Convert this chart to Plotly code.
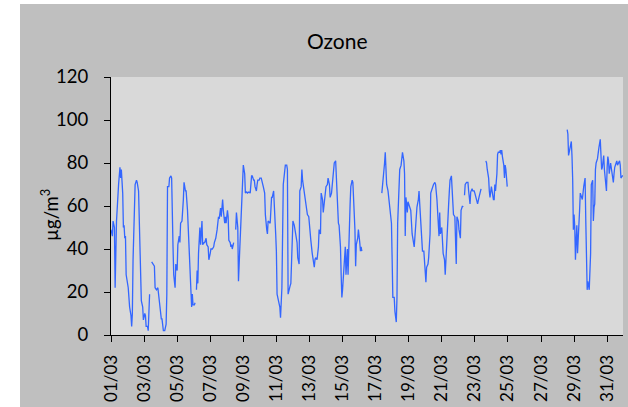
import pandas as pd
import plotly.graph_objects as go

# Hours since 01/03 00:00 and ozone values (µg/m³); None marks missing data
hours = [
    0, 2, 3, 5, 6, 8, 11, 13, 14, 15, 17, 18, 19, 20, 21, 22, 25, 27, 29, 30, 31, 32, 34, 35, 37, 38, 40, 41, 43, 44,
    46, 47, 49, 50, 51, 53, 54, 56, 57,
    59, 63, 64, 66, 68, 69, 71, 72, 73, 74, 76, 78, 80, 81, 82, 84, 85, 87, 88, 90, 91, 93, 94, 96, 97, 99, 100, 101,
    103, 105, 106, 108, 109, 111, 113, 114, 115, 117, 118, 119, 121, 122, 123,
    124, 125, 126, 127, 129, 130, 132, 133, 135, 136, 138, 139, 141, 142, 144, 145, 147, 149, 150, 152, 154, 156, 157,
    159, 160, 162, 163, 165, 166, 167, 169, 170, 171, 173, 174, 175, 176, 178, 179,
    181, 182, 184, 185, 187, 189, 191, 192, 194, 195, 197, 198, 200, 202, 204, 205, 207, 208, 209, 211, 212, 213, 215,
    216, 218, 220, 221, 223, 224, 226, 227, 228, 230, 231, 233, 234, 236, 237, 239,
    240, 241, 243, 245, 246, 247, 248, 250, 252, 253, 255, 256, 257, 259, 260, 261, 262, 263, 264, 266, 267, 268, 270,
    271, 273, 274, 276, 277, 278, 280, 281, 282, 284, 285, 287, 288, 290, 292, 293, 295, 296, 297, 299, 301, 302, 304,
    305, 307, 308, 310, 311, 312, 314, 315, 317, 318, 320, 321, 323, 324, 326, 327, 328, 330, 331, 333, 334, 335, 336,
    338, 339, 340, 341, 342, 343, 344, 345, 347, 348, 350, 351, 353, 354, 355, 356, 358, 359, 361, 362, 363, 364, 365,
    393, 394, 395, 397, 398, 399, 400, 402, 403, 404, 406, 407, 408, 409, 411, 412, 414, 415, 416, 418, 419, 421, 422,
    423, 425, 426, 427, 428, 429, 430, 431, 432, 434, 435, 437, 438, 439, 440, 441, 443, 444, 446, 447, 448, 450, 451,
    452, 454, 455, 457, 458, 460, 461, 463, 464, 465, 467, 468, 470, 471, 473, 474, 476, 477, 478, 480, 481, 482, 484,
    485, 487, 488, 490, 491,
    492, 494, 495, 496, 497, 499, 500, 501, 502, 504, 505, 507, 508, 510, 511, 512,
    513, 514, 516, 518, 519, 521, 522, 524, 525, 527, 528, 529, 531, 532, 534, 535, 537, 540,
    544, 545, 546, 548, 549, 550, 552, 553, 555, 556, 557, 558, 560, 561, 562, 564, 565, 566, 567, 568, 570, 571, 572,
    573, 574, 575, 600,
    662, 663, 664, 666, 667, 668, 669, 670, 671, 672, 673, 674, 675, 676, 677, 678, 680, 681, 683, 684, 686, 687, 688,
    689, 690, 691, 692, 693, 694, 696, 697, 699, 700, 701, 702, 703, 704, 706, 707, 708, 710, 711, 712, 713, 714, 715,
    716, 717, 719, 720, 721, 722, 723, 725, 726, 727, 729, 730, 731, 733, 734, 735, 737, 738, 739, 740, 742, 743,
]

ozone = [
    49, 46, 53, 50, 22, 53, 70, 78, 73, 77, 66, 50, 51, 45, 46, 28, 22, 13, 9, 4, 10, 35, 63, 70, 72, 71, 67, 50, 17, 16,
    13, 7, 10, 9, 4, 4, 2, 19, None,
    34, 32, 22, 21, 22, 19, 14, 8, 7.5, 7.5, 2, 2, 5, 19, 69, 69, 73, 74, 73, 41, 28, 22, 33, 30, 42, 46, 43, 52,
    53, 63, 71, 67, 67, 58, 42, 39, 28, 13, 19, 14, 14, 15, None,
    21, 30, 24, 38, 50, 42, 53, 42, 43, 43, 45, 42, 41, 35, 38, 40, 40, 41, 43, 45, 49, 55, 54,
    59, 55, 63, 58, 52, 55, 52, 58, 55, 44, 43, 41, 42, 40, 43, None,
    49, 57, 50, 25, 41, 58, 78, 79, 75, 66, 66.5, 66, 66.5, 66, 74, 74, 72, 72, 69, 67, 70, 72, 72,
    73, 73, 71, 69, 66, 56, 49, 47, 53, 52, 52, 64, 64, 67, 62, 47,
    39, 19, 16, 13, 8, 22, 22, 70, 77, 79, 79, 77, 19, 23, 23, 24, 35, 41, 53, 51, 47, 47, 43,
    36, 33, 67, 69, 77, 72, 67, 66, 63, 56, 56, 55, 50, 44, 38, 35, 31.5, 35, 36, 35, 41, 49, 47,
    66, 63, 57, 63, 64, 69, 70, 73, 70, 64, 66, 70, 77, 80, 81, 73, 63, 52, 51, 41, 28, 17.5, 21,
    31.5, 40, 41, 28, 40, 40, 28, 45, 61, 69, 72, 71, 58, 49, 32, 42, 45, 49, 43, 39, 41, 39, None,
    66, 69, 73, 80, 85, 78, 70, 67, 64, 63, 56, 52, 35, 17.5, 17.5, 11, 6, 17.5, 52, 66, 77, 79, 81,
    85, 81, 75, 46, 64, 61, 57, 62, 61, 59.5, 58, 47, 45.5, 44, 41, 45.5, 58, 59.5, 63, 67, 61, 52, 44,
    39, 39, 35, 24.5, 31.5, 33, 36, 47, 66, 67, 70, 70, 71, 70, 63, 55, 46, 57, 47, 50, 41, 38, 35,
    28, 41, 50, 61, 67,
    72, 74, 66, 58, 56, 55, 33, 33, 55, 53, 49, 45, 58, 60, 59.5, None,
    65, 70, 71, 71, 67, 61, 66.5, 68, 67, 67, 66, 65, 63, 61, 64, 66, 68, None,
    81, 80, 77, 73, 67, 64, 69, 66, 63, 63, 70, 67, 75, 84, 85, 85, 86, 84, 86, 83, 79, 73, 79,
    77, 72, 69, None,
    95.5, 93.5, 83.5, 87, 89, 90, 83, 72, 49, 56, 50, 35, 44, 51, 38, 43, 58, 66, 63, 63, 69, 73, 73,
    53, 35, 21, 25, 22, 21, 38, 70, 72, 53, 59.5, 61, 77, 80, 82, 87, 87, 91, 84, 77, 78, 83, 83.5,
    77, 72, 67, 78, 83, 81, 75, 80, 77, 74, 71, 75, 78, 80, 81, 79, 80, 81, 79, 73, 74, 74,
]

y_ticks = [0, 20, 40, 60, 80, 100, 120]
title_text = "Ozone"
y_title = "µg/m<sup>3</sup>"

base = pd.Timestamp("2023-03-01")
x_vals = [base + pd.Timedelta(hours=h) for h in hours]

FONT = "Lato"
fig = go.Figure()
fig.add_trace(go.Scatter(
    x=x_vals, y=ozone, mode="lines",
    line=dict(color="#3366ff", width=1.3),
    connectgaps=False, showlegend=False, hoverinfo="skip",
))

W, H = 628, 407
ml, mr, mt, mb = 111, 5, 77, 72
pw, ph = W - ml - mr, H - mt - mb

def px(xp):
    return (xp - ml) / pw

def py(yp):
    return (H - mb - yp) / ph

fig.update_layout(
    width=W, height=H,
    margin=dict(l=ml, r=mr, t=mt, b=mb, pad=0, autoexpand=False),
    paper_bgcolor="#bfbfbf",
    plot_bgcolor="#d9d9d9",
    font=dict(family=FONT, color="#000000", size=18),
    xaxis=dict(
        type="date",
        range=[base, base + pd.Timedelta(hours=743)],
        tick0=base, dtick=2 * 86400000,
        tickformat="%d/%m", tickangle=-90,
        ticks="outside", ticklen=6, tickcolor="#000000", tickwidth=1,
        showline=True, linecolor="#000000", linewidth=1,
        showgrid=False, zeroline=False, automargin=False,
        tickfont=dict(family=FONT, size=17, color="#000000"),
        ticklabelstandoff=6,
    ),
    yaxis=dict(
        range=[0, 120], tickvals=y_ticks,
        ticks="outside", ticklen=6, tickcolor="#000000", tickwidth=1,
        showline=True, linecolor="#000000", linewidth=1,
        showgrid=False, zeroline=False, automargin=False,
        tickfont=dict(family=FONT, size=18.5, color="#000000"),
        ticklabelstandoff=12,
    ),
    shapes=[
        dict(type="rect", xref="paper", yref="paper", x0=px(-5), x1=px(20), y0=py(H + 5), y1=py(-5),
             fillcolor="#ffffff", line=dict(width=0), layer="above"),
        dict(type="rect", xref="paper", yref="paper", x0=px(-5), x1=px(W + 5), y0=py(4), y1=py(-5),
             fillcolor="#ffffff", line=dict(width=0), layer="above"),
    ],
    annotations=[
        dict(text=title_text, xref="paper", yref="paper", x=px(337), y=py(41),
             xanchor="center", yanchor="middle", showarrow=False,
             font=dict(family=FONT, size=21, color="#000000")),
        dict(text=y_title, xref="paper", yref="paper", x=px(49), y=py(215),
             xanchor="center", yanchor="middle", showarrow=False, textangle=-90,
             font=dict(family=FONT, size=18.5, color="#000000")),
    ],
)

fig.write_html(
    "out.html",
    config={"displayModeBar": False, "staticPlot": True},
    post_script="document.body.style.margin='0';document.body.style.overflow='hidden';",
)
